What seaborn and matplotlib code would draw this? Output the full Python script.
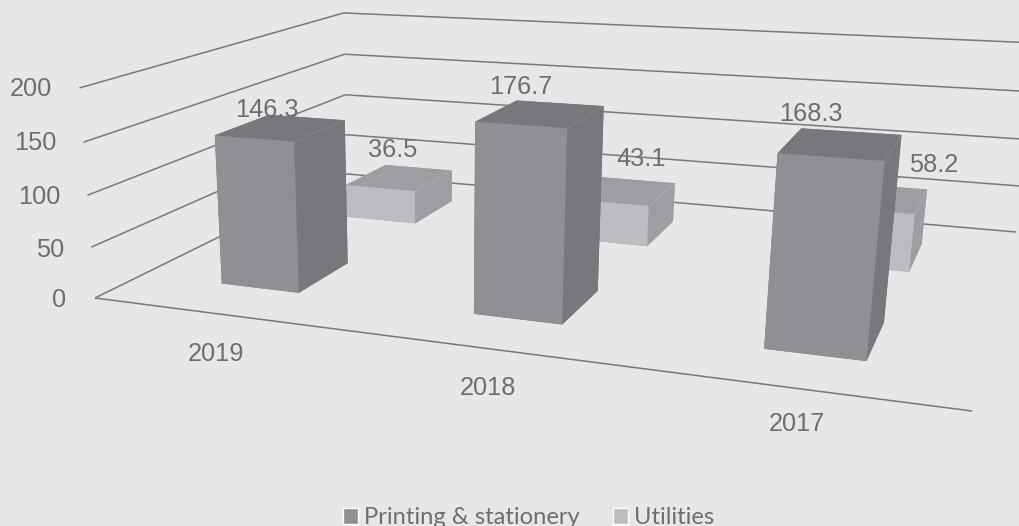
import numpy as np
import pandas as pd
import seaborn as sns
import matplotlib
matplotlib.use("Agg")
import matplotlib.pyplot as plt
from matplotlib.patches import Patch
from mpl_toolkits.mplot3d import Axes3D
from mpl_toolkits.mplot3d.art3d import Line3DCollection

# Expenses per year and series
years = ["2019", "2018", "2017"]
printing = [146.3, 176.7, 168.3]
utilities = [36.5, 43.1, 58.2]
value_ticks = [0, 50, 100, 150, 200]
series_names = ["Printing & stationery", "Utilities"]

BACKGROUND = "#e6e7e8"
TEXT = "#6d6e71"
GRID = "#77787b"
PRINT_FACES = {"front": "#8f9093", "top": "#77787b", "side": "#77787b", "edge": "#8b8c8f"}
UTIL_FACES = {"front": "#bcbdc0", "top": "#9d9ea1", "side": "#9d9ea1", "edge": "#b0b1b4"}

W, H = 1020, 526


class FixedCameraAxes(Axes3D):
    """3D axes whose camera is a fixed projective matrix onto figure pixels."""

    camera = np.array([
        [680.5 / 3, 364.5, -19.0 / 200, 95.0],
        [29.9 / 3, -67.6, -213.8 / 200, 298.0],
        [0.0, 0.0, 0.0, -1.0],
        [-0.2022 / 3, 0.3242, -0.0427 / 200, 1.0],
    ])

    def get_proj(self):
        return self.camera

    def apply_aspect(self, position=None):
        pass


sns.set_theme(style="white", rc={"figure.facecolor": BACKGROUND,
                                 "axes.facecolor": BACKGROUND})
plt.rcParams["font.family"] = ["Liberation Sans", "DejaVu Sans"]

fig = plt.figure(figsize=(W / 100, H / 100), dpi=100)
ax = FixedCameraAxes(fig, [0, 0, 1, 1], computed_zorder=False)
fig.add_axes(ax)
ax.set_axis_off()

n_cat = len(years)

# Side wall and back wall rules at each tick value, then the floor edge
rules = []
for v in value_ticks:
    rules.append([(0, 0, v), (0, 1, v)])
    rules.append([(0, 1, v), (n_cat, 1, v)])
rules.append([(0, 0, 0), (n_cat, 0, 0)])
ax.add_collection3d(Line3DCollection(rules, colors=GRID, linewidths=1.1, zorder=1))

BAR_WIDTH = 0.32
BAR_DEPTH = 0.195
frame = pd.DataFrame({"printing": printing, "utilities": utilities}, index=years)


def draw_series(values, depth_centre, faces, zorder, nudge=0.0):
    xs = np.arange(n_cat) + 0.5 - BAR_WIDTH / 2 + nudge
    ys = np.full(n_cat, depth_centre - BAR_DEPTH / 2)
    # bar3d takes one colour per face, in the order -z, +z, -y, +y, -x, +x
    colours = [faces["side"], faces["top"], faces["front"],
               faces["side"], faces["side"], faces["side"]] * n_cat
    ax.bar3d(xs, ys, np.zeros(n_cat), BAR_WIDTH, BAR_DEPTH, values,
             color=colours, shade=False, zorder=zorder, edgecolor="none")
    # Faint highlight along the edge shared by the top and side faces
    ridge = [[(x + BAR_WIDTH, y, v), (x + BAR_WIDTH, y + BAR_DEPTH, v)]
             for x, y, v in zip(xs, ys, values)]
    ax.add_collection3d(Line3DCollection(ridge, colors=faces["edge"],
                                         linewidths=0.5, zorder=zorder + 0.5))


draw_series(frame["utilities"].to_numpy(), 0.75, UTIL_FACES, 2, nudge=0.008)
draw_series(frame["printing"].to_numpy(), 0.25, PRINT_FACES, 3)


def put_text(px, py, s, ha="center"):
    fig.text(px / W, 1 - (py + 2) / H, s, ha=ha, va="center", color=TEXT, fontsize=18.3)


# Value axis labels
tick_right = [66, 64, 61, 57, 52]
tick_mid = [298, 248, 195, 141, 87]
for v, px, py in zip(value_ticks, tick_right, tick_mid):
    put_text(px, py, str(v), ha="right")

# Category labels
for year, px, py in zip(years, [216, 488, 797], [352, 386, 422]):
    put_text(px, py, year)

# Value labels on the bars
for val, px, py in zip(printing, [267, 521, 811], [108, 85, 112]):
    put_text(px, py, f"{val:.1f}")
for val, px, py in zip(utilities, [393, 641, 934], [148, 157, 163]):
    put_text(px, py, f"{val:.1f}")

handles = [Patch(facecolor=PRINT_FACES["front"]), Patch(facecolor=UTIL_FACES["front"])]
leg = fig.legend(handles, series_names, ncol=2, frameon=False, loc="lower left",
                 bbox_to_anchor=(343 / W, -2 / H), borderaxespad=0, borderpad=0,
                 handlelength=0.64, handleheight=0.64, handletextpad=0.25,
                 columnspacing=1.38,
                 prop={"family": "Lato", "size": 17.1})
for t in leg.get_texts():
    t.set_color(TEXT)

ax.viewLim.intervalx = (0, W)
ax.viewLim.intervaly = (H, 0)

fig.savefig("out.png", dpi=100, facecolor=BACKGROUND)
